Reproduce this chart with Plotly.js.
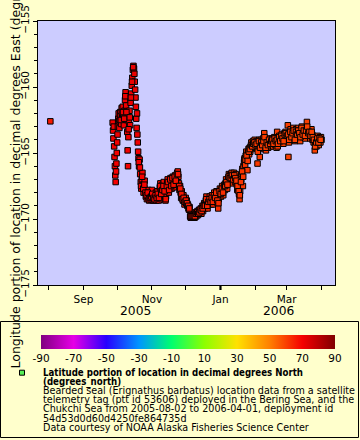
<!DOCTYPE html>
<html>
<head>
<meta charset="utf-8">
<script src="https://cdn.plot.ly/plotly-3.0.1.min.js"></script>
<style>
  html, body { margin: 0; padding: 0; background: #ffffcc; }
  #chart { width: 360px; height: 440px; }
</style>
</head>
<body>
<div id="chart"></div>
<script>
// ---- Data ----
const dates = [
  "2005-08-02 12",
  "2005-09-27","2005-09-27 08","2005-09-27 16","2005-09-28","2005-09-28 08","2005-09-28 16","2005-09-29","2005-09-29 08","2005-09-29 16","2005-09-30","2005-09-30 08","2005-09-30 16",
  "2005-10-01","2005-10-01 08","2005-10-01 16","2005-10-02","2005-10-02 08","2005-10-02 16","2005-10-03","2005-10-03 08","2005-10-03 16",
  "2005-10-04","2005-10-04 12","2005-10-05","2005-10-05 12","2005-10-06","2005-10-06 12","2005-10-07","2005-10-07 12","2005-10-08","2005-10-08 12","2005-10-09","2005-10-09 12","2005-10-10","2005-10-10 08","2005-10-10 16","2005-10-11","2005-10-11 12","2005-10-12","2005-10-12 12","2005-10-13","2005-10-13 12","2005-10-14","2005-10-14 12","2005-10-15","2005-10-15 12",
  "2005-10-16","2005-10-16 08","2005-10-16 16","2005-10-17","2005-10-17 08","2005-10-17 16","2005-10-18","2005-10-18 08","2005-10-18 16","2005-10-19","2005-10-19 08","2005-10-19 16",
  "2005-10-20","2005-10-20 12","2005-10-21","2005-10-21 12","2005-10-22","2005-10-22 12","2005-10-23","2005-10-23 12","2005-10-24","2005-10-24 12","2005-10-25","2005-10-25 12","2005-10-26","2005-10-26 12","2005-10-27","2005-10-27 12","2005-10-28","2005-10-28 12","2005-10-29","2005-10-29 12","2005-10-30","2005-10-30 12","2005-10-31","2005-10-31 12",
  "2005-11-01","2005-11-01 12","2005-11-02","2005-11-02 12","2005-11-03","2005-11-03 12","2005-11-04","2005-11-04 12","2005-11-05","2005-11-05 12","2005-11-06","2005-11-06 12","2005-11-07","2005-11-07 12","2005-11-08","2005-11-08 12","2005-11-09","2005-11-09 12","2005-11-10","2005-11-10 12",
  "2005-11-11","2005-11-11 12","2005-11-12","2005-11-12 12","2005-11-13","2005-11-13 12","2005-11-14","2005-11-14 12","2005-11-15","2005-11-15 12","2005-11-16","2005-11-16 12","2005-11-17","2005-11-17 12","2005-11-18","2005-11-18 12","2005-11-19","2005-11-19 12","2005-11-20","2005-11-20 12",
  "2005-11-21","2005-11-21 12","2005-11-22","2005-11-22 12","2005-11-23","2005-11-23 12","2005-11-24","2005-11-24 12","2005-11-25","2005-11-25 12","2005-11-26","2005-11-26 12","2005-11-27","2005-11-27 12","2005-11-28","2005-11-28 12","2005-11-29","2005-11-29 12","2005-11-30","2005-11-30 12",
  "2005-12-01","2005-12-01 12","2005-12-02","2005-12-02 12","2005-12-03","2005-12-03 12","2005-12-04","2005-12-04 12","2005-12-05","2005-12-05 12","2005-12-06","2005-12-06 12","2005-12-07","2005-12-07 12","2005-12-08","2005-12-08 12","2005-12-09","2005-12-09 12","2005-12-10","2005-12-10 12",
  "2005-12-11","2005-12-11 12","2005-12-12","2005-12-12 12","2005-12-13","2005-12-13 12","2005-12-14","2005-12-14 12","2005-12-15","2005-12-15 12","2005-12-16","2005-12-16 12","2005-12-17","2005-12-17 12","2005-12-18","2005-12-18 12","2005-12-19","2005-12-19 12","2005-12-20","2005-12-20 12",
  "2005-12-21","2005-12-21 12","2005-12-22","2005-12-22 12","2005-12-23","2005-12-23 12","2005-12-24","2005-12-24 12","2005-12-25","2005-12-25 12","2005-12-26","2005-12-26 12","2005-12-27","2005-12-27 12","2005-12-28","2005-12-28 12","2005-12-29","2005-12-29 12","2005-12-30","2005-12-30 12","2005-12-31","2005-12-31 12",
  "2006-01-01","2006-01-01 12","2006-01-02","2006-01-02 12","2006-01-03","2006-01-03 12","2006-01-04","2006-01-04 12","2006-01-05","2006-01-05 12","2006-01-06","2006-01-06 12","2006-01-07","2006-01-07 12","2006-01-08","2006-01-08 12","2006-01-09","2006-01-09 12","2006-01-10","2006-01-10 12",
  "2006-01-11","2006-01-11 12","2006-01-12","2006-01-12 12","2006-01-13","2006-01-13 12","2006-01-14","2006-01-14 12","2006-01-15","2006-01-15 12","2006-01-16","2006-01-16 12","2006-01-17","2006-01-17 12","2006-01-18","2006-01-18 12","2006-01-19","2006-01-19 12","2006-01-20","2006-01-20 12",
  "2006-01-21","2006-01-21 12","2006-01-22","2006-01-22 12","2006-01-23","2006-01-23 12","2006-01-24","2006-01-24 12","2006-01-25","2006-01-25 12","2006-01-26","2006-01-26 12","2006-01-27","2006-01-27 12","2006-01-28","2006-01-28 12","2006-01-29","2006-01-29 12","2006-01-30","2006-01-30 12","2006-01-31","2006-01-31 12",
  "2006-02-01","2006-02-01 12","2006-02-02","2006-02-02 12","2006-02-03","2006-02-03 12","2006-02-04","2006-02-04 12","2006-02-05","2006-02-05 12","2006-02-06","2006-02-06 12","2006-02-07","2006-02-07 12","2006-02-08","2006-02-08 12","2006-02-09","2006-02-09 12","2006-02-10","2006-02-10 12",
  "2006-02-11","2006-02-11 12","2006-02-12","2006-02-12 12","2006-02-13","2006-02-13 12","2006-02-14","2006-02-14 12","2006-02-15","2006-02-15 12","2006-02-16","2006-02-16 12","2006-02-17","2006-02-17 12","2006-02-18","2006-02-18 12","2006-02-19","2006-02-19 12","2006-02-20","2006-02-20 12",
  "2006-02-21","2006-02-21 12","2006-02-22","2006-02-22 12","2006-02-23","2006-02-23 12","2006-02-24","2006-02-24 12","2006-02-25","2006-02-25 12","2006-02-26","2006-02-26 12","2006-02-27","2006-02-27 12","2006-02-28","2006-02-28 12",
  "2006-03-01","2006-03-01 12","2006-03-02","2006-03-02 12","2006-03-03","2006-03-03 12","2006-03-04","2006-03-04 12","2006-03-05","2006-03-05 12","2006-03-06","2006-03-06 12","2006-03-07","2006-03-07 12","2006-03-08","2006-03-08 12","2006-03-09","2006-03-09 12","2006-03-10","2006-03-10 12",
  "2006-03-11","2006-03-11 12","2006-03-12","2006-03-12 12","2006-03-13","2006-03-13 12","2006-03-14","2006-03-14 12","2006-03-15","2006-03-15 12","2006-03-16","2006-03-16 12","2006-03-17","2006-03-17 12","2006-03-18","2006-03-18 12","2006-03-19","2006-03-19 12","2006-03-20","2006-03-20 12",
  "2006-03-21","2006-03-21 12","2006-03-22","2006-03-22 12","2006-03-23","2006-03-23 12","2006-03-24","2006-03-24 12","2006-03-25","2006-03-25 12","2006-03-26","2006-03-26 12","2006-03-27","2006-03-27 12","2006-03-28","2006-03-28 12","2006-03-29","2006-03-29 12","2006-03-30","2006-03-30 12","2006-03-31","2006-03-31 12",
  "2006-04-01"
];

// Longitude (degrees_east)
const lons = [
  -162.6,
  -162.7,-163.3,-163.9,-163.0,-164.5,-165.3,-166.0,-166.7,-167.2,-166.4,-165.8,-165.0,
  -164.2,-163.6,-163.0,-162.4,-162.0,-162.6,-163.1,-162.5,-161.9,
  -162.2,-162.8,-161.6,-162.1,-161.5,-162.3,-162.9,-161.8,-161.0,-160.4,-161.4,-162.5,-163.4,-164.8,-166.0,-163.8,-162.6,-161.8,-162.9,-161.2,-160.5,-159.9,-159.3,-158.7,-158.4,
  -158.6,-159.0,-159.6,-160.2,-160.8,-161.5,-162.4,-163.1,-162.0,-163.6,-164.2,-164.9,
  -165.4,-166.0,-165.5,-166.6,-167.2,-167.7,-167.0,-166.5,-167.4,-168.0,-167.6,-167.1,-167.8,-168.3,-168.0,-168.5,-168.2,-167.8,-168.4,-168.6,-168.3,-168.5,-168.5,-168.1,
  -167.8,-168.4,-168.6,-168.2,-168.5,-168.6,-168.5,-168.0,-168.6,-168.3,-167.9,-168.4,-168.6,-168.2,-167.6,-167.3,-167.8,-168.5,-168.2,-167.4,
  -167.8,-167.2,-167.6,-168.1,-168.6,-168.3,-167.7,-167.3,-167.0,-167.5,-168.0,-167.6,-167.2,-166.9,-167.3,-167.7,-167.1,-166.8,-167.2,-167.6,
  -167.0,-166.7,-166.9,-167.4,-166.8,-166.5,-166.4,-166.8,-167.3,-167.8,-167.5,-168.0,-168.4,-167.9,-168.3,-168.6,-168.2,-168.6,-168.9,-168.5,
  -168.4,-168.8,-168.6,-169.0,-168.9,-169.2,-169.3,-169.1,-169.8,-169.9,-169.7,-169.9,-169.8,-169.9,-169.9,-169.6,-169.9,-169.7,-169.5,-169.8,
  -169.6,-169.4,-169.7,-169.5,-169.3,-169.6,-169.5,-169.2,-169.6,-169.3,-169.0,-169.4,-169.1,-168.8,-169.2,-168.9,-168.6,-168.3,-168.8,-169.2,
  -168.9,-168.5,-168.7,-168.3,-168.6,-168.9,-168.5,-168.2,-168.6,-168.9,-168.4,-168.0,-168.3,-168.6,-168.2,-167.9,-168.4,-168.8,-169.2,-168.5,-168.0,-167.7,
  -168.0,-168.3,-167.8,-167.5,-167.9,-168.2,-167.7,-167.4,-167.8,-167.3,-167.0,-167.4,-167.7,-167.2,-166.9,-166.6,-167.0,-166.7,-167.1,-166.8,
  -166.5,-166.9,-167.3,-166.8,-166.5,-166.9,-167.2,-166.6,-166.9,-167.4,-167.8,-167.3,-167.7,-168.1,-168.5,-167.9,-167.4,-167.0,-166.6,-166.2,
  -167.5,-166.0,-165.7,-165.4,-165.9,-165.2,-164.9,-165.5,-166.3,-165.0,-164.7,-165.1,-164.6,-164.9,-164.5,-164.2,-164.7,-164.4,-164.1,-164.6,-164.3,-164.0,
  -164.5,-164.3,-164.1,-164.6,-165.8,-164.4,-164.2,-164.0,-165.3,-164.3,-164.0,-164.4,-164.7,-164.2,-163.9,-164.3,-163.5,-164.1,-164.5,-164.8,
  -164.4,-164.0,-164.3,-164.6,-164.2,-163.9,-164.1,-164.5,-164.3,-164.0,-163.9,-164.2,-164.5,-164.1,-163.8,-164.0,-164.4,-163.9,-164.6,-163.4,
  -164.5,-164.2,-163.9,-163.7,-164.0,-164.3,-163.9,-163.6,-163.8,-164.1,-164.3,-163.9,-163.5,-163.8,-163.4,-163.7,
  -163.6,-163.9,-162.9,-165.3,-164.2,-163.9,-163.5,-163.2,-163.6,-164.0,-163.7,-163.3,-163.1,-163.5,-163.9,-164.1,-163.6,-163.2,-163.4,-163.8,
  -163.5,-163.1,-163.3,-163.7,-164.1,-163.6,-163.2,-163.0,-163.4,-163.8,-163.5,-163.2,-163.6,-163.9,-163.4,-163.1,-162.65,-163.3,-163.7,-163.4,
  -163.2,-163.6,-163.9,-163.5,-163.2,-163.6,-164.0,-163.7,-164.2,-163.8,-164.8,-164.3,-163.9,-164.5,-164.1,-163.7,-164.0,-164.4,-164.1,-163.8,-164.2,-163.8,
  -164.0
];

// Latitude (degrees_north) -> marker colour
const lats = [
  66.2,
  70.6,70.7,70.5,70.8,70.4,70.2,70.0,69.9,69.8,70.1,70.3,70.4,
  70.6,70.8,70.9,71.0,71.1,71.0,70.9,71.0,71.2,
  71.2,71.1,71.3,71.2,71.3,71.1,71.0,71.2,71.4,71.5,71.3,71.0,70.8,70.5,70.3,70.7,71.0,71.2,71.0,71.3,71.4,71.5,71.6,71.7,71.8,
  71.8,71.7,71.6,71.5,71.4,71.3,71.2,71.0,71.2,70.9,70.7,70.5,
  70.3,70.1,70.2,70.0,69.8,69.6,69.7,69.9,69.6,69.4,69.5,69.7,69.4,69.2,69.3,69.1,69.2,69.4,69.1,68.9,69.0,68.8,68.9,69.1,
  69.0,68.8,68.9,69.1,68.7,68.9,68.8,68.6,68.7,68.9,68.5,68.7,68.4,68.6,68.5,68.3,68.4,68.6,68.2,68.4,
  68.1,68.3,68.2,68.0,67.9,68.1,67.8,68.0,67.7,67.9,67.6,67.8,67.5,67.7,67.4,67.6,67.3,67.5,67.2,67.4,
  67.1,67.3,67.0,67.2,66.9,67.1,66.8,67.0,66.7,66.9,66.6,66.8,66.5,66.7,66.4,66.6,66.3,66.5,66.2,66.4,
  66.1,66.3,65.9,66.2,65.9,66.1,65.7,66.0,65.7,65.8,65.6,65.9,65.4,65.7,65.5,65.6,65.2,65.5,65.3,65.4,
  65.1,65.2,65.0,65.3,64.8,65.1,64.9,65.0,64.6,64.9,64.7,64.8,64.4,64.7,64.5,64.6,64.2,64.5,64.3,64.4,
  64.1,64.3,63.9,64.2,64.0,64.1,63.8,64.0,63.6,63.9,63.7,63.8,63.5,63.7,63.4,63.6,63.2,63.5,63.3,63.4,63.1,63.3,
  63.1,62.9,63.0,63.2,62.8,62.9,63.0,62.7,62.9,62.8,62.6,62.8,62.7,62.5,62.6,62.8,62.4,62.6,62.5,62.3,
  62.5,62.4,62.2,62.4,62.3,62.1,62.3,62.2,62.0,62.2,62.1,61.9,62.0,62.2,61.8,62.0,61.9,61.7,61.9,61.8,
  61.6,61.8,61.7,61.5,61.7,61.6,61.4,61.6,61.5,61.3,61.5,61.4,61.2,61.4,61.3,61.1,61.3,61.2,61.0,61.2,61.1,60.9,
  61.0,61.2,61.1,60.9,61.1,61.0,60.8,61.0,60.9,61.1,60.8,61.0,60.9,60.7,60.9,61.0,60.8,60.7,60.9,60.8,
  60.6,60.8,60.7,60.9,60.6,60.8,60.7,60.5,60.7,60.6,60.8,60.5,60.7,60.6,60.4,60.6,60.5,60.7,60.4,60.6,
  60.5,60.3,60.5,60.6,60.4,60.2,60.4,60.5,60.3,60.5,60.4,60.2,60.3,60.5,60.4,60.2,
  60.4,60.3,60.5,60.2,60.4,60.3,60.1,60.3,60.4,60.2,60.3,60.1,60.3,60.4,60.2,60.0,60.2,60.3,60.1,60.3,
  60.2,60.0,60.2,60.3,60.1,60.2,60.0,60.2,60.3,60.1,60.2,60.0,60.1,60.3,60.1,59.9,60.1,60.2,60.0,60.2,
  60.1,59.9,60.1,60.2,60.0,60.1,59.9,60.1,60.2,60.0,60.1,59.9,60.0,60.2,60.0,59.8,60.0,60.1,59.9,60.1,60.0,59.9,
  60.0
];

// Additional 06:00 fixes (dense stretches of the track)
const datesB = [
  "2005-10-04 06","2005-10-05 06","2005-10-06 06","2005-10-07 06","2005-10-08 06","2005-10-09 06","2005-10-11 06","2005-10-12 06","2005-10-13 06","2005-10-14 06","2005-10-15 06",
  "2005-10-20 06","2005-10-21 06","2005-10-22 06","2005-10-23 06","2005-10-24 06","2005-10-25 06","2005-10-26 06","2005-10-27 06","2005-10-28 06","2005-10-29 06","2005-10-30 06","2005-10-31 06",
  "2005-11-01 06","2005-11-02 06","2005-11-03 06","2005-11-04 06","2005-11-05 06","2005-11-06 06","2005-11-07 06","2005-11-08 06","2005-11-09 06","2005-11-10 06",
  "2005-11-11 06","2005-11-12 06","2005-11-13 06","2005-11-14 06","2005-11-15 06","2005-11-16 06","2005-11-17 06","2005-11-18 06","2005-11-19 06","2005-11-20 06",
  "2005-11-21 06","2005-11-22 06","2005-11-23 06","2005-11-24 06","2005-11-25 06","2005-11-26 06","2005-11-27 06","2005-11-28 06","2005-11-29 06","2005-11-30 06",
  "2005-12-01 06","2005-12-02 06","2005-12-03 06","2005-12-04 06","2005-12-05 06","2005-12-06 06","2005-12-07 06","2005-12-08 06","2005-12-09 06","2005-12-10 06",
  "2005-12-11 06","2005-12-12 06","2005-12-13 06","2005-12-14 06","2005-12-15 06","2005-12-16 06","2005-12-17 06","2005-12-18 06","2005-12-19 06","2005-12-20 06",
  "2005-12-21 06","2005-12-22 06","2005-12-23 06","2005-12-24 06","2005-12-25 06","2005-12-26 06","2005-12-27 06","2005-12-28 06","2005-12-29 06","2005-12-30 06","2005-12-31 06",
  "2006-01-01 06","2006-01-02 06","2006-01-03 06","2006-01-04 06","2006-01-05 06","2006-01-06 06","2006-01-07 06","2006-01-08 06","2006-01-09 06","2006-01-10 06",
  "2006-01-11 06","2006-01-12 06","2006-01-13 06","2006-01-14 06","2006-01-15 06","2006-01-16 06","2006-01-17 06","2006-01-18 06","2006-01-19 06","2006-01-20 06",
  "2006-01-21 06","2006-01-22 06","2006-01-23 06","2006-01-24 06","2006-01-25 06","2006-01-26 06","2006-01-27 06","2006-01-28 06","2006-01-29 06","2006-01-30 06","2006-01-31 06",
  "2006-02-01 06","2006-02-02 06","2006-02-03 06","2006-02-04 06","2006-02-05 06","2006-02-06 06","2006-02-07 06","2006-02-08 06","2006-02-09 06","2006-02-10 06",
  "2006-02-11 06","2006-02-12 06","2006-02-13 06","2006-02-14 06","2006-02-15 06","2006-02-16 06","2006-02-17 06","2006-02-18 06","2006-02-19 06","2006-02-20 06",
  "2006-02-21 06","2006-02-22 06","2006-02-23 06","2006-02-24 06","2006-02-25 06","2006-02-26 06","2006-02-27 06","2006-02-28 06",
  "2006-03-01 06","2006-03-02 06","2006-03-03 06","2006-03-04 06","2006-03-05 06","2006-03-06 06","2006-03-07 06","2006-03-08 06","2006-03-09 06","2006-03-10 06",
  "2006-03-11 06","2006-03-12 06","2006-03-13 06","2006-03-14 06","2006-03-15 06","2006-03-16 06","2006-03-17 06","2006-03-18 06","2006-03-19 06","2006-03-20 06",
  "2006-03-21 06","2006-03-22 06","2006-03-23 06","2006-03-24 06","2006-03-25 06","2006-03-26 06","2006-03-27 06","2006-03-28 06","2006-03-29 06","2006-03-30 06","2006-03-31 06"
];
const lonsB = [
  -162.5,-161.9,-161.9,-162.4,-160.7,-161.9,-163.2,-162.3,-160.8,-159.6,-158.5,
  -165.7,-166.1,-167.5,-166.8,-167.7,-167.4,-168.0,-168.2,-168.0,-168.5,-168.4,-168.3,
  -168.1,-168.4,-168.5,-168.2,-168.4,-168.1,-168.4,-167.5,-168.1,-167.8,
  -167.5,-167.9,-168.5,-167.5,-167.2,-167.8,-167.0,-167.5,-166.9,-167.4,
  -166.8,-167.1,-166.6,-166.6,-167.5,-167.7,-168.1,-168.5,-168.4,-168.7,
  -168.6,-168.8,-169.0,-169.2,-169.8,-169.8,-169.8,-169.8,-169.8,-169.6,
  -169.5,-169.6,-169.5,-169.3,-169.4,-169.2,-169.0,-169.0,-168.5,-169.0,
  -168.7,-168.5,-168.7,-168.4,-168.7,-168.2,-168.4,-168.0,-168.6,-168.8,-167.9,
  -168.1,-167.7,-168.0,-167.5,-167.5,-167.2,-167.4,-166.8,-166.9,-166.9,
  -166.7,-167.0,-166.7,-166.9,-167.1,-167.5,-167.9,-168.2,-167.2,-166.4,
  -166.8,-165.5,-165.5,-165.2,-165.6,-164.9,-164.7,-164.4,-164.5,-164.3,-164.2,
  -164.4,-164.3,-164.9,-164.1,-164.6,-164.2,-164.4,-164.1,-163.8,-164.6,
  -164.2,-164.4,-164.0,-164.3,-164.1,-164.0,-164.3,-163.9,-164.1,-164.0,
  -164.3,-163.8,-164.1,-163.7,-163.9,-164.1,-163.6,-163.5,
  -163.7,-163.6,-164.0,-163.4,-163.8,-163.5,-163.3,-164.0,-163.4,-163.6,
  -163.3,-163.5,-163.8,-163.1,-163.6,-163.3,-163.7,-163.3,-163.0,-163.5,
  -163.4,-163.7,-163.4,-163.8,-164.0,-164.5,-164.2,-163.9,-164.2,-163.9,-164.0
];
const latsB = [
  71.1,71.2,71.2,71.1,71.4,71.2,70.9,71.1,71.3,71.5,71.7,
  70.2,70.1,69.7,69.8,69.5,69.6,69.3,69.2,69.3,69.0,68.9,69.0,
  68.9,69.0,68.8,68.8,68.6,68.5,68.5,68.4,68.3,68.2,
  68.2,68.1,67.9,67.8,67.7,67.6,67.5,67.4,67.3,67.2,
  67.2,67.1,67.0,66.9,66.8,66.7,66.6,66.5,66.4,66.3,
  66.2,66.1,66.0,65.9,65.8,65.7,65.6,65.5,65.4,65.3,
  65.2,65.1,65.0,64.9,64.8,64.7,64.6,64.5,64.4,64.3,
  64.2,64.1,64.0,63.9,63.8,63.7,63.6,63.5,63.4,63.3,63.2,
  63.0,62.9,62.9,62.8,62.7,62.7,62.6,62.5,62.4,62.4,
  62.3,62.2,62.1,62.1,62.0,61.9,61.9,61.8,61.7,61.6,
  61.6,61.5,61.4,61.4,61.3,61.2,61.2,61.1,61.0,61.0,60.9,
  61.0,60.9,60.9,60.8,60.8,60.7,60.7,60.6,60.6,60.5,
  60.6,60.5,60.5,60.4,60.5,60.4,60.4,60.3,60.4,60.3,
  60.3,60.2,60.3,60.2,60.2,60.1,60.2,60.1,
  60.3,60.2,60.2,60.1,60.2,60.1,60.1,60.0,60.1,60.0,
  60.1,60.0,60.0,59.9,60.0,59.9,60.0,59.9,59.9,59.8,
  59.9,59.8,59.9,59.8,59.8,59.9,59.8,59.9,59.8,59.9,59.8
];

// Axis / colour-bar tick labels
const xTickVals = ["2005-09-01", "2005-11-01", "2006-01-01", "2006-03-01"];
const xTickText = ["Sep", "Nov", "Jan", "Mar"];
const xMinorVals = ["2005-08-01", "2005-10-01", "2005-12-01", "2006-02-01", "2006-04-01"];
const yearLabels = ["2005", "2006"];
const yearLabelDates = ["2005-10-17", "2006-02-22"];
const yearBoundary = "2006-01-01";
const cbTickVals = [-90, -70, -50, -30, -10, 10, 30, 50, 70, 90];
const yTitle = "Longitude portion of location in decimal degrees East (degrees_east)";

const legendLines = [
  "Latitude portion of location in decimal degrees North",
  "(degrees_north)",
  "Bearded seal (Erignathus barbatus) location data from a satellite",
  "telemetry tag (ptt id 53606) deployed in the Bering Sea, and the",
  "Chukchi Sea from 2005-08-02 to 2006-04-01, deployment id",
  "54d53d0d60d4250fe864735d",
  "Data courtesy of NOAA Alaska Fisheries Science Center"
];

// ---- Layout geometry (pixels) ----
const W = 360, H = 440;
const M = { l: 38, r: 25, t: 21, b: 155 };
const plotW = W - M.l - M.r, plotH = H - M.t - M.b;
const px = x => (x - M.l) / plotW;            // pixel -> paper x
const py = y => (H - M.b - y) / plotH;        // pixel -> paper y

const FONT = "DejaVu Sans, Verdana, sans-serif";

const rainbow = [
  [0.0, "rgb(128,0,128)"],
  [0.1111, "rgb(230,0,230)"],
  [0.2222, "rgb(40,0,255)"],
  [0.3333, "rgb(0,150,255)"],
  [0.4444, "rgb(0,255,110)"],
  [0.5556, "rgb(140,255,0)"],
  [0.6667, "rgb(255,225,0)"],
  [0.7778, "rgb(255,128,0)"],
  [0.8889, "rgb(245,0,0)"],
  [1.0, "rgb(128,0,0)"]
];

const trace = {
  type: "scatter",
  mode: "markers",
  x: dates.concat(datesB),
  y: lons.concat(lonsB),
  marker: {
    symbol: "square",
    size: 5.5,
    color: lats.concat(latsB),
    cmin: -90,
    cmax: 90,
    colorscale: rainbow,
    line: { color: "#000000", width: 1 },
    showscale: true,
    colorbar: {
      orientation: "h",
      x: px((41 + 335) / 2),
      xanchor: "center",
      y: py(335),
      yanchor: "top",
      len: 294,
      lenmode: "pixels",
      thickness: 14,
      thicknessmode: "pixels",
      xpad: 0,
      ypad: 0,
      outlinewidth: 0,
      tickmode: "array",
      tickvals: cbTickVals,
      ticktext: cbTickVals.map(String),
      ticks: "",
      tickfont: { family: FONT, size: 10.5, color: "#000" }
    }
  },
  hoverinfo: "skip",
  showlegend: false
};

const annotations = [];
// y-axis title (rotated), centred on the plot area
annotations.push({
  text: yTitle, xref: "paper", yref: "paper", x: px(14.5), y: 0.5,
  xanchor: "center", yanchor: "middle", textangle: -90, showarrow: false,
  font: { family: FONT, size: 12.5, color: "#000" }
});
yearLabels.forEach((t, i) => {
  annotations.push({
    text: t, xref: "x", yref: "paper", x: yearLabelDates[i], y: py(310.7),
    xanchor: "center", yanchor: "middle", showarrow: false,
    font: { family: FONT, size: 12.3, color: "#000" }
  });
});
const lineY = [372.7, 381.6, 390.5, 399.7, 408.9, 418.0, 427.1];
legendLines.forEach((t, i) => {
  annotations.push({
    text: t, xref: "paper", yref: "paper", x: px(42.3), y: py(lineY[i]),
    xanchor: "left", yanchor: "middle", showarrow: false, borderpad: 0,
    font: { family: i < 2 ? "DejaVu Sans Condensed, DejaVu Sans, sans-serif" : FONT,
            size: 9.6, color: "#000", weight: i < 2 ? "bold" : "normal" }
  });
});

const shapes = [
  { type: "rect", xref: "paper", yref: "paper",
    x0: px(0.5), x1: px(358.5), y0: py(321.5), y1: py(437.5),
    line: { color: "#000", width: 1 }, fillcolor: "rgba(0,0,0,0)", layer: "below" },
  { type: "rect", xref: "paper", yref: "paper",
    x0: px(19.5), x1: px(24.5), y0: py(370.2), y1: py(375.2),
    line: { color: "#000", width: 1 }, fillcolor: "#55ee55" },
  // heavier tick marking the year boundary
  { type: "line", xref: "x", yref: "paper",
    x0: yearBoundary, x1: yearBoundary, y0: 0, y1: py(290),
    line: { color: "#000", width: 2.2 } }
];

const layout = {
  width: W, height: H,
  margin: M,
  paper_bgcolor: "#ffffcc",
  plot_bgcolor: "#ccccff",
  font: { family: FONT, size: 10.5, color: "#000" },
  showlegend: false,
  xaxis: {
    type: "date",
    range: ["2005-07-22 12", "2006-04-13"],
    tickmode: "array",
    tickvals: xTickVals,
    ticktext: xTickText,
    ticks: "outside", ticklen: 4, tickcolor: "#000", tickwidth: 1,
    minor: { tickmode: "array", tickvals: xMinorVals,
             ticks: "outside", ticklen: 4, tickcolor: "#000", tickwidth: 1, showgrid: false },
    showline: true, mirror: true, linecolor: "#000", linewidth: 1,
    showgrid: false, zeroline: false,
    tickfont: { family: FONT, size: 10.5, color: "#000" }
  },
  yaxis: {
    range: [-175, -155],
    tickmode: "linear", tick0: -175, dtick: 5,
    tickangle: -90,
    ticks: "outside", ticklen: 4, tickcolor: "#000", tickwidth: 1,
    minor: { dtick: 1, ticks: "outside", ticklen: 3, tickcolor: "#000", tickwidth: 1, showgrid: false },
    showline: true, mirror: true, linecolor: "#000", linewidth: 1,
    showgrid: false, zeroline: false,
    tickfont: { family: FONT, size: 10.5, color: "#000" }
  },
  annotations: annotations,
  shapes: shapes
};

Plotly.newPlot("chart", [trace], layout, { displayModeBar: false, staticPlot: true });
</script>
</body>
</html>
